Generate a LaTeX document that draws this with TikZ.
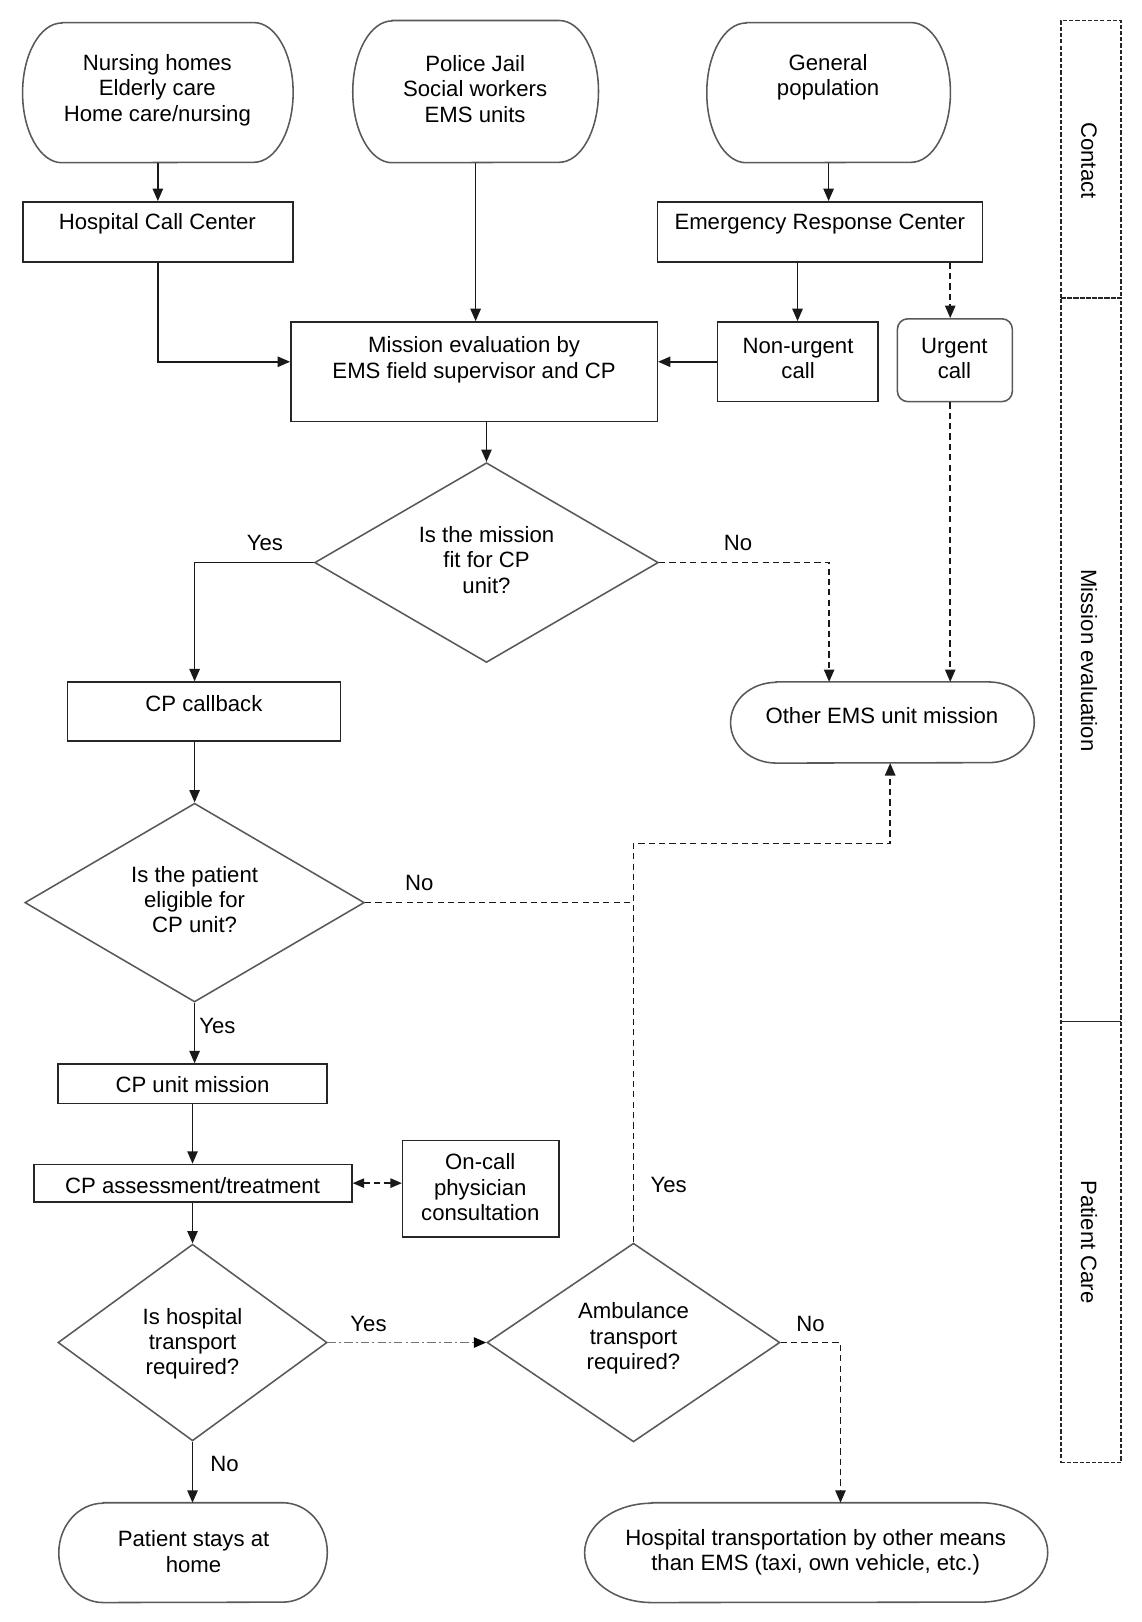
\documentclass[tikz,border=0pt]{standalone}
\usepackage{fontspec}
\setmainfont{Liberation Sans}
\usetikzlibrary{arrows.meta,shapes.geometric,calc}
\newcommand\mkterm[3]{\draw[outl] ([xshift=#2]#1.north west) -- ([xshift=-#2]#1.north east) arc[start angle=90,end angle=-90,x radius=#2,y radius=#3] -- ([xshift=#2]#1.south west) arc[start angle=270,end angle=90,x radius=#2,y radius=#3] -- cycle;}
\begin{document}
\begin{tikzpicture}[x=1pt,y=-1pt,
  txt/.style={align=center,inner sep=0pt,font=\fontsize{21.4}{24.4}\selectfont},
  boxs/.style={rectangle,draw=black!85,line width=1.5pt,inner sep=0pt},
  hole/.style={rectangle,inner sep=0pt},
  dia/.style={diamond,draw=black!65,line width=1.5pt,inner sep=0pt},
  outl/.style={draw=black!65,line width=1.5pt},
  conn/.style={line width=1.5pt,draw=black!90,-{Triangle[length=12pt,width=10pt]}},
  dconn/.style={conn,dash pattern=on 6pt off 4pt},
  dline/.style={line width=1.5pt,draw=black!90,dash pattern=on 6pt off 4pt},
  ddconn/.style={line width=1.5pt,draw=black!55,dash pattern=on 8pt off 3pt on 2pt off 3pt,-{Triangle[length=12pt,width=10pt,color=black]}},
  lane/.style={rectangle,inner sep=0pt,draw=black!85,line width=1.2pt,dash pattern=on 4pt off 2pt},
]
\useasboundingbox (0,0) rectangle (1103,1567);

% terminals
\node[hole,minimum width=261pt,minimum height=135pt] (nh) at (152.5,89.5) {};
\node[hole,minimum width=237pt,minimum height=137pt] (pj) at (459.5,88.5) {};
\node[hole,minimum width=235pt,minimum height=135pt] (gp) at (800.5,89.5) {};
\node[hole,minimum width=293pt,minimum height=78pt] (oems) at (852.5,698) {};
\node[hole,minimum width=259pt,minimum height=96pt] (psh) at (186.5,1500) {};
\node[hole,minimum width=447pt,minimum height=96pt] (ht) at (788.5,1500) {};
\mkterm{nh}{38pt}{67.5pt}
\mkterm{pj}{38pt}{68.5pt}
\mkterm{gp}{38pt}{67.5pt}
\mkterm{oems}{44pt}{39pt}
\mkterm{psh}{43pt}{48pt}
\mkterm{ht}{65pt}{48pt}

% boxes
\node[boxs,minimum width=261pt,minimum height=58pt] (hcc) at (152.5,224) {};
\node[boxs,minimum width=314pt,minimum height=58pt] (erc) at (792,224) {};
\node[boxs,minimum width=354pt,minimum height=96pt] (mis) at (458,359) {};
\node[boxs,minimum width=155pt,minimum height=77pt] (nu) at (770.5,349.5) {};
\node[boxs,draw=black!65,rounded corners=10pt,minimum width=111pt,minimum height=80pt] (uc) at (922.5,348) {};
\node[boxs,minimum width=264pt,minimum height=57pt] (cpcb) at (197,687.5) {};
\node[boxs,minimum width=260pt,minimum height=38pt] (cpum) at (186,1047) {};
\node[boxs,minimum width=307pt,minimum height=36pt] (cpa) at (186.5,1143) {};
\node[boxs,minimum width=151pt,minimum height=93pt] (oc) at (464.5,1148.5) {};

% diamonds
\node[dia,minimum width=332pt,minimum height=193pt] (d1) at (470,543.5) {};
\node[dia,minimum width=328pt,minimum height=192pt] (d2) at (188,872) {};
\node[dia,minimum width=260pt,minimum height=190pt] (d3) at (186,1297) {};
\node[dia,minimum width=283pt,minimum height=192pt] (d4) at (612,1297) {};

% texts
\node[txt] (tnh) at (152,87) {Nursing homes\\Elderly care\\Home care/nursing};
\node[txt] (tpj) at (459,86) {Police Jail\\Social workers\\EMS units};
\node[txt] (tgp) at (800,75) {General\\population};
\node[txt] (thcc) at (152,216) {Hospital Call Center};
\node[txt] (terc) at (792,216) {Emergency Response Center};
\node[txt] (tmis) at (458,347.5) {Mission evaluation by\\EMS field supervisor and CP};
\node[txt] (tnu) at (771,346) {Non-urgent\\call};
\node[txt] (tuc) at (922,346) {Urgent\\call};
\node[txt] (td1) at (470,541) {Is the mission\\fit for CP\\unit?};
\node[txt] (tcpcb) at (197,680) {CP callback};
\node[txt] (toems) at (852,691) {Other EMS unit mission};
\node[txt] (td2) at (188,869) {Is the patient\\eligible for\\CP unit?};
\node[txt] (tcpum) at (186,1048) {CP unit mission};
\node[txt] (tcpa) at (186,1145) {CP assessment/treatment};
\node[txt] (toc) at (464,1147) {On-call\\physician\\consultation};
\node[txt] (td3) at (186,1298) {Is hospital\\transport\\required?};
\node[txt] (td4) at (612,1293) {Ambulance\\transport\\required?};
\node[txt] (tpsh) at (187,1499) {Patient stays at\\home};
\node[txt] (tht) at (788,1499.5) {Hospital transportation by other means\\than EMS (taxi, own vehicle, etc.)};

% lanes
\node[lane,minimum width=58pt,minimum height=268pt] (l1) at (1054,154) {};
\node[lane,minimum width=58pt,minimum height=699pt] (l2) at (1054,637.5) {};
\node[lane,minimum width=58pt,minimum height=426pt] (l3) at (1054,1200) {};
\node[txt,rotate=-90] (tl1) at (1052,155) {Contact};
\node[txt,rotate=-90] (tl2) at (1052,638) {Mission evaluation};
\node[txt,rotate=-90] (tl3) at (1052,1200) {Patient Care};

% labels
\node[txt] (y1) at (256,525) {Yes};
\node[txt] (n1) at (713,525) {No};
\node[txt] (n2) at (405,853) {No};
\node[txt] (y2) at (210,991) {Yes};
\node[txt] (y4) at (646,1145) {Yes};
\node[txt] (y3) at (356,1279) {Yes};
\node[txt] (n3) at (217,1414) {No};
\node[txt] (n4) at (783,1279) {No};

% connectors
\coordinate (ux) at (918,300);
\coordinate (j1) at (612,815);
\coordinate (j2) at (860,815);
\coordinate (k1) at (812,1400);
\coordinate (nx) at (801,600);
\draw[conn] (nh.south) -- (hcc.north);
\draw[conn] (pj.south) -- (pj.south |- mis.north);
\draw[conn] (gp.south) -- (gp.south |- erc.north);
\draw[conn] (hcc.south) |- (mis.west |- nu.west);
\draw[conn] (nu.west) -- (nu.west -| mis.east);
\draw[conn] (erc.south -| nu.north) -- (nu.north);
\draw[dconn] (ux |- erc.south) -- (ux |- uc.north);
\draw[dconn] (ux |- uc.south) -- (ux |- oems.north);
\draw[conn] (d1.north |- mis.south) -- (d1.north);
\draw[conn] (d1.west) -| (d2.north |- cpcb.north);
\draw[dconn] (d1.east) -| (nx |- oems.north);
\draw[conn] (d2.north |- cpcb.south) -- (d2.north);
\draw[dconn] (d4.north) -- (j1) -- (j2) -- (j2 |- oems.south);
\draw[dline] (d2.east) -- (d2.east -| j1);
\draw[conn] (d2.south) -- (d2.south |- cpum.north);
\draw[conn] (cpum.south) -- (cpum.south |- cpa.north);
\draw[dconn,{Triangle[length=11pt,width=9pt]}-{Triangle[length=11pt,width=9pt]}] (cpa.east) -- (cpa.east -| oc.west);
\draw[conn] (cpa.south -| d3.north) -- (d3.north);
\draw[ddconn] (d3.east) -- (d4.west);
\draw[conn] (d3.south) -- (d3.south |- psh.north);
\draw[dconn] (d4.east) -| (k1 |- ht.north);
\end{tikzpicture}
\end{document}
